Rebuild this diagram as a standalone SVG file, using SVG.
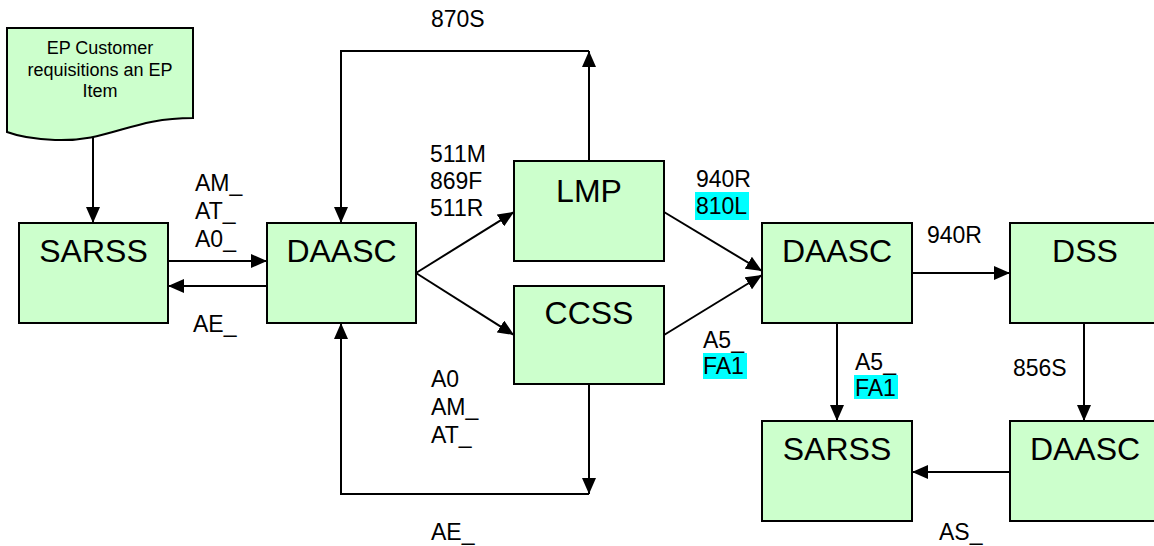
<svg xmlns="http://www.w3.org/2000/svg" width="1154" height="546" viewBox="0 0 1154 546">
<style>
.box{fill:#CCFFCC;stroke:#000;stroke-width:2}
.bt{font-family:"Liberation Sans",Arial,sans-serif;font-size:32px;text-anchor:middle;fill:#000}
.dt{font-family:"Liberation Sans",Arial,sans-serif;font-size:18px;text-anchor:middle;fill:#000}
.lb{font-family:"Liberation Sans",Arial,sans-serif;font-size:23px;fill:#000}
.hl{fill:#00FFFF}
.cn{fill:none;stroke:#000;stroke-width:2;marker-end:url(#ah)}
.ln{fill:none;stroke:#000;stroke-width:2}
</style>
<defs>
<marker id="ah" markerUnits="userSpaceOnUse" markerWidth="16" markerHeight="14" refX="16" refY="7" orient="auto">
<path d="M0,0 L16,7 L0,14 Z" fill="#000"/>
</marker>
</defs>
<rect width="1154" height="546" fill="#fff"/>
<g id="connectors">
<path class="cn" d="M93,137 V223"/>
<path class="cn" d="M168,261 H267"/>
<path class="cn" d="M267,286 H168"/>
<path class="cn" d="M589,161 V51"/>
<path class="cn" d="M589,51 H341 V223"/>
<path class="cn" d="M416,273 L514,212"/>
<path class="cn" d="M416,273 L514,335"/>
<path class="cn" d="M664,212 L762,271"/>
<path class="cn" d="M664,335 L762,275"/>
<path class="cn" d="M589,384 V494"/>
<path class="cn" d="M589,494 H341 V323"/>
<path class="cn" d="M912,273 H1010"/>
<path class="cn" d="M837,323 V421"/>
<path class="cn" d="M1084,323 V421"/>
<path class="cn" d="M1010,472 H912"/>
</g>
<g id="labels">
<text class="lb" x="195" y="191">AM_</text>
<text class="lb" x="195" y="219">AT_</text>
<text class="lb" x="195" y="247">A0_</text>
<text class="lb" x="193" y="332">AE_</text>
<text class="lb" x="431" y="27">870S</text>
<text class="lb" x="430" y="162">511M</text>
<text class="lb" x="430" y="189">869F</text>
<text class="lb" x="430" y="216">511R</text>
<text class="lb" x="431" y="387">A0</text>
<text class="lb" x="431" y="415">AM_</text>
<text class="lb" x="431" y="443">AT_</text>
<text class="lb" x="431" y="540">AE_</text>
<text class="lb" x="696" y="187">940R</text>
<rect class="hl" x="695" y="192" width="54" height="28"/>
<text class="lb" x="696" y="214">810L</text>
<text class="lb" x="703" y="348">A5_</text>
<rect class="hl" x="703" y="353" width="44" height="26"/>
<text class="lb" x="703" y="374">FA1</text>
<text class="lb" x="927" y="243">940R</text>
<text class="lb" x="855" y="370">A5_</text>
<rect class="hl" x="854" y="375" width="44" height="24"/>
<text class="lb" x="855" y="396">FA1</text>
<text class="lb" x="1013" y="376">856S</text>
<text class="lb" x="939" y="540">AS_</text>
</g>
<g id="doc">
<path class="box" d="M7,28 H193 V118 C130,118 110,142 55,140 C30,139 15,135 7,132 Z"/>
<text class="dt" x="100" y="54">EP Customer</text>
<text class="dt" x="100" y="76">requisitions an EP</text>
<text class="dt" x="100" y="97">Item</text>
</g>
<g id="sarss1"><rect class="box" x="19" y="223" width="149" height="100"/><text class="bt" x="93.5" y="262">SARSS</text></g>
<g id="daasc1"><rect class="box" x="267" y="223" width="149" height="100"/><text class="bt" x="341.5" y="262">DAASC</text></g>
<g id="lmp"><rect class="box" x="514" y="161" width="150" height="100"/><text class="bt" x="589" y="202">LMP</text></g>
<g id="ccss"><rect class="box" x="514" y="286" width="150" height="98"/><text class="bt" x="589" y="324">CCSS</text></g>
<g id="daasc2"><rect class="box" x="762" y="223" width="150" height="100"/><text class="bt" x="837" y="262">DAASC</text></g>
<g id="dss"><rect class="box" x="1010" y="223" width="150" height="100"/><text class="bt" x="1085" y="262">DSS</text></g>
<g id="sarss2"><rect class="box" x="762" y="421" width="150" height="100"/><text class="bt" x="837" y="460">SARSS</text></g>
<g id="daasc3"><rect class="box" x="1010" y="421" width="150" height="100"/><text class="bt" x="1085" y="460">DAASC</text></g>
</svg>
